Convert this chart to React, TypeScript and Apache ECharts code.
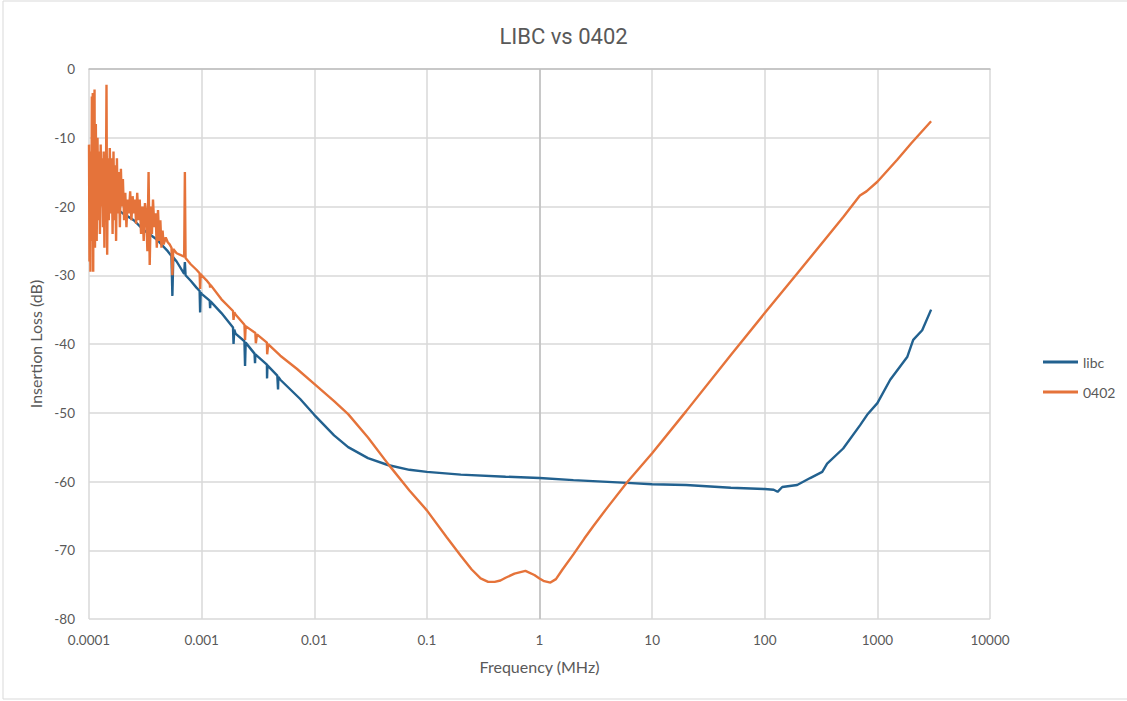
import React, { useEffect, useRef } from "react";
import * as echarts from "echarts";

const chartTitle = "LIBC vs 0402";
const seriesNames = ["libc", "0402"];
const xTickLabels = ["0.0001", "0.001", "0.01", "0.1", "1", "10", "100", "1000", "10000"];

const libcFreq = [
  0.0001, 0.00012, 0.00015, 0.0002, 0.00025, 0.0003, 0.0004, 0.0005, 0.00054, 0.00055, 0.00056,
  0.0006, 0.0007, 0.00071, 0.00072, 0.0008, 0.0009, 0.00096, 0.00097, 0.00098, 0.001, 0.00118,
  0.00119, 0.0012, 0.0015, 0.0019, 0.00192, 0.00195, 0.002, 0.0024, 0.00243, 0.00246, 0.00295,
  0.00298, 0.003, 0.0038, 0.00381, 0.00384, 0.0047, 0.00477, 0.0048, 0.005, 0.0075, 0.01, 0.015,
  0.02, 0.03, 0.045, 0.07, 0.1, 0.2, 0.5, 1, 2, 6, 10, 20, 50, 100, 120, 130, 143, 194, 253, 324,
  358, 497, 703, 811, 1000, 1300, 1840, 2080, 2500, 3000,
];
const libcLoss = [
  -17.5, -18, -19.5, -21, -22, -23.3, -24.8, -26.5, -27.2, -33, -27.4,
  -28, -29.8, -28.1, -30, -30.8, -31.8, -32.3, -35.4, -32.5, -32.7, -33.7,
  -34.8, -33.8, -35.5, -37.6, -40, -37.9, -38.5, -39.6, -43.2, -39.8, -41.4,
  -42.8, -41.5, -43, -45, -43.1, -44.6, -46.6, -44.8, -45.2, -48, -50.3, -53.3,
  -55, -56.6, -57.6, -58.3, -58.6, -59, -59.3, -59.5, -59.8, -60.2, -60.4, -60.5, -60.9, -61.1, -61.2, -61.5, -60.8, -60.5, -59.5, -58.6,
  -57.4, -55.2, -51.8, -50.3, -48.6, -45.2, -41.9, -39.4, -38, -35,
];

const o402Freq = [
  0.0001, 0.000101, 0.000102, 0.000103, 0.000104, 0.000105, 0.000106, 0.000107, 0.000108, 0.000109,
  0.00011, 0.000111, 0.000112, 0.000113, 0.000115, 0.000117, 0.000119, 0.000121, 0.000123, 0.000125,
  0.000127, 0.000129, 0.000131, 0.000133, 0.000135, 0.000137, 0.000139, 0.000141, 0.000143, 0.000145,
  0.000147, 0.00015, 0.000153, 0.000156, 0.000159, 0.000162, 0.000165, 0.000168, 0.000171, 0.000174,
  0.000177, 0.00018, 0.000184, 0.000188, 0.000192, 0.000196, 0.0002, 0.000205, 0.00021, 0.000215,
  0.00022, 0.000226, 0.000232, 0.000238, 0.000244, 0.00025, 0.000256, 0.000262, 0.000268, 0.000275,
  0.000282, 0.00029, 0.000298, 0.000306, 0.000314, 0.000322, 0.00033, 0.000338, 0.000346, 0.000354,
  0.000362, 0.00037, 0.00038, 0.00039, 0.0004, 0.00041, 0.00042, 0.00043, 0.00044, 0.00045,
  0.00046, 0.00048, 0.0005, 0.00052, 0.00054, 0.00055, 0.00056, 0.0006, 0.0007, 0.00071,
  0.00072, 0.0008, 0.0009, 0.00096, 0.00097, 0.00098, 0.001, 0.0011, 0.00118, 0.00119, 0.0012,
  0.0015, 0.0019, 0.00192, 0.00195, 0.002, 0.0024, 0.00243, 0.00246, 0.003, 0.00303, 0.0031,
  0.0038, 0.00382, 0.0039, 0.004, 0.005, 0.007, 0.01, 0.015, 0.02, 0.03, 0.045, 0.07, 0.1, 0.15,
  0.2, 0.25, 0.3, 0.35, 0.4, 0.45, 0.5, 0.6, 0.75, 0.9, 1, 1.1, 1.25, 1.4, 1.6, 2, 2.5, 3, 4, 6,
  10, 20, 50, 100, 200, 500, 700, 800, 1000, 1500, 2000, 3000,
];
const o402Loss = [
  -11, -28, -14, -29.5, -12, -22, -4, -25, -3.5, -29.5,
  -6, -20, -3, -26, -8, -25, -10, -22, -12, -24,
  -11, -20, -13, -23, -12, -26, -14, -21, -2.3, -27,
  -13, -22, -11.5, -21, -13, -24, -12, -22, -14, -25,
  -13, -21, -15, -23, -14.5, -20, -16, -22, -18, -23,
  -19, -21, -17.8, -22, -18.5, -21, -19, -22.5, -18, -22,
  -19, -24, -20, -25, -19.5, -21, -26.5, -15, -28.5, -20,
  -24, -19, -23, -21, -26, -20.5, -25, -22, -26, -23.5,
  -25.5, -24.5, -25.2, -25.5, -26, -30, -26.2, -26.8, -27.3, -15,
  -27.5, -28.4, -29.2, -29.7, -32, -29.8, -30, -30.7, -31.3, -31.8, -31.4,
  -33.5, -35.2, -36.5, -35.4, -35.7, -37.2, -39.4, -37.4, -38.4, -39.9, -38.6,
  -39.8, -41.5, -40, -40.2, -41.7, -43.6, -45.8, -48.3, -50.2, -53.6, -57.4, -61.3, -64.2, -68.1,
  -70.8, -72.8, -74.1, -74.6, -74.6, -74.4, -74, -73.4, -73, -73.6, -74.1, -74.5, -74.7, -74.2, -72.8, -70.6, -68.3, -66.5, -63.8, -60.1,
  -55.9, -49.8, -41.6, -35.5, -29.5, -21.5, -18.4, -17.8, -16.4, -13.2, -10.8, -7.6,
];

const zip = (xs: number[], ys: number[]) => xs.map((x, i) => [x, ys[i]]);

export default function App() {
  const ref = useRef<HTMLDivElement>(null);
  useEffect(() => {
    if (!ref.current) return;
    const chart = echarts.init(ref.current, null, { renderer: "svg" });
    const textColor = "#595959";
    const font = "Lato, 'Noto Sans', sans-serif";
    chart.setOption({
      animation: false,
      backgroundColor: "#ffffff",
      title: {
        text: chartTitle,
        left: "center",
        top: 20,
        textStyle: { color: textColor, fontSize: 22, fontWeight: "normal", fontFamily: "Roboto, sans-serif" },
      },
      legend: {
        orient: "vertical",
        left: 1038,
        top: 350,
        itemGap: 16,
        itemWidth: 35,
        itemHeight: 3,
        icon: "rect",
        data: seriesNames,
        textStyle: { color: textColor, fontSize: 14, fontFamily: font },
      },
      graphic: [
        {
          type: "rect",
          shape: { x: 3, y: 1, width: 1130, height: 698 },
          style: { fill: "none", stroke: "#d9d9d9", lineWidth: 1 },
          silent: true,
        },
      ],
      grid: { left: 89, right: 137, top: 69, bottom: 82 },
      xAxis: {
        type: "log",
        logBase: 10,
        min: 0.0001,
        max: 10000,
        interval: 1,
        name: "Frequency (MHz)",
        nameLocation: "middle",
        nameGap: 39,
        nameTextStyle: { color: textColor, fontSize: 16, fontFamily: font },
        axisLine: { show: true, lineStyle: { color: "#bfbfbf", width: 1.5 } },
        axisTick: { show: false },
        axisLabel: {
          color: textColor,
          fontSize: 13.5,
          fontFamily: font,
          margin: 14,
          formatter: (v: number) => xTickLabels[Math.round(Math.log10(v)) + 4] ?? "",
        },
        splitLine: { show: true, lineStyle: { color: "#d9d9d9", width: 1.5 } },
        minorSplitLine: { show: false },
      },
      yAxis: {
        type: "value",
        min: -80,
        max: 0,
        interval: 10,
        name: "Insertion Loss (dB)",
        nameLocation: "middle",
        nameGap: 44,
        nameTextStyle: { color: textColor, fontSize: 16, fontFamily: font },
        axisLine: { show: false },
        axisTick: { show: false },
        axisLabel: { color: textColor, fontSize: 13.5, fontFamily: font, margin: 14 },
        splitLine: { show: true, lineStyle: { color: "#d9d9d9", width: 1.5 } },
      },
      series: [
        {
          name: seriesNames[0],
          type: "line",
          data: zip(libcFreq, libcLoss),
          showSymbol: false,
          symbol: "none",
          color: "#22618f",
          lineStyle: { color: "#22618f", width: 2.4 },
          markLine: {
            silent: true,
            symbol: "none",
            label: { show: false },
            lineStyle: { color: "#bfbfbf", width: 1.5, type: "solid" },
            data: [{ xAxis: 1 }],
            z: 1,
          },
        },
        {
          name: seriesNames[1],
          type: "line",
          data: zip(o402Freq, o402Loss),
          showSymbol: false,
          symbol: "none",
          color: "#e5733a",
          lineStyle: { color: "#e5733a", width: 2.4 },
        },
      ],
    });
    return () => chart.dispose();
  }, []);
  return (
    <div
      ref={ref}
      style={{ position: "absolute", left: 0, top: 0, width: 1127, height: 701 }}
    />
  );
}
